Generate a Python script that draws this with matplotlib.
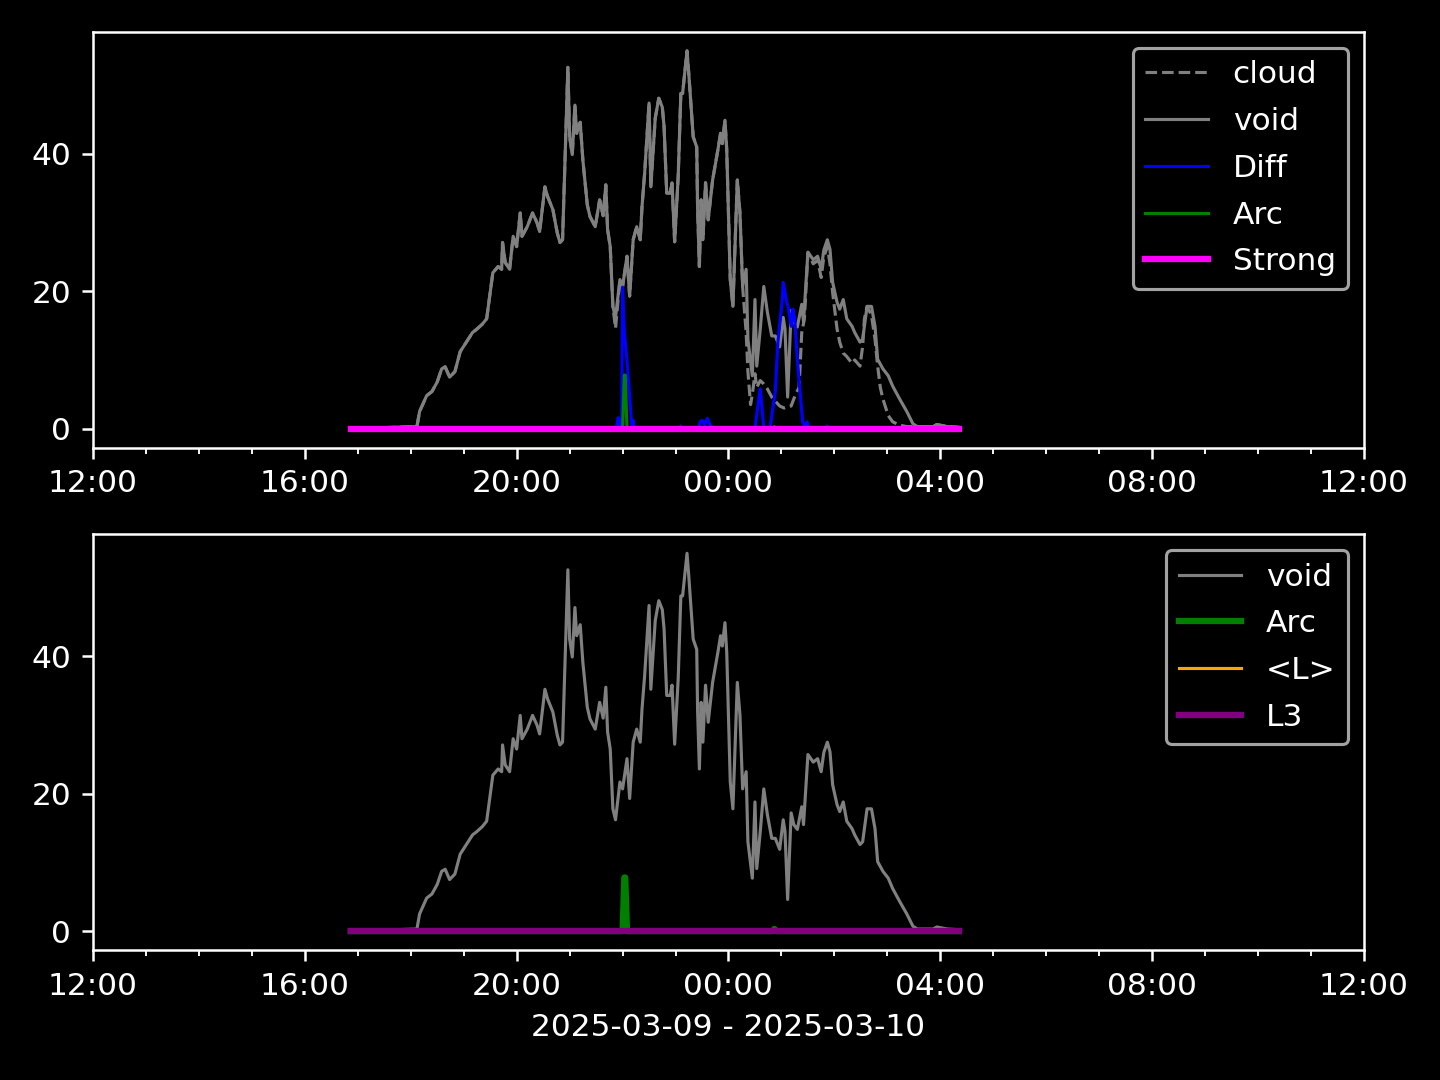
import matplotlib
matplotlib.use("Agg")
import matplotlib.pyplot as plt
import matplotlib.dates as mdates
import pandas as pd

plt.style.use("dark_background")

# void (same in both panels)
void_t = ["16:52", "18:07", "18:10", "18:18", "18:24", "18:30", "18:35", "18:39", "18:44", "18:50",
          "18:56", "19:04", "19:10", "19:15", "19:21", "19:26", "19:30", "19:33", "19:39", "19:43",
          "19:44", "19:47", "19:52", "19:56", "20:00", "20:04", "20:06", "20:12", "20:18", "20:23",
          "20:26", "20:32", "20:35", "20:41", "20:46", "20:49", "20:52", "20:58", "21:00", "21:03",
          "21:06", "21:08", "21:12", "21:15", "21:20", "21:23", "21:29", "21:34", "21:38", "21:41",
          "21:43", "21:46", "21:49", "21:52", "21:57", "22:00", "22:05", "22:08", "22:12", "22:16",
          "22:20", "22:22", "22:25", "22:30", "22:32", "22:37", "22:41", "22:45", "22:47", "22:50",
          "22:54", "22:56", "22:59", "23:03", "23:06", "23:08", "23:13", "23:15", "23:20", "23:24",
          "23:25", "23:27", "23:29", "23:31", "23:34", "23:37", "23:42", "23:48", "23:51", "23:53",
          "23:56", "23:58", "00:02", "00:05", "00:10", "00:13", "00:16", "00:20", "00:22", "00:27",
          "00:30", "00:32", "00:36", "00:40", "00:44", "00:49", "00:53", "00:58", "01:02", "01:04",
          "01:07", "01:11", "01:14", "01:18", "01:23", "01:25", "01:30", "01:36", "01:41", "01:45",
          "01:48", "01:52", "01:55", "01:58", "02:03", "02:06", "02:10", "02:14", "02:20", "02:23",
          "02:29", "02:32", "02:37", "02:42", "02:46", "02:49", "02:55", "03:01", "03:06", "03:14",
          "03:22", "03:29", "03:34", "03:52", "03:56", "04:08", "04:21"]
void_v = [0.0, 0.3, 2.5, 4.8, 5.4, 6.8, 8.7, 9.0, 7.5, 8.3,
          11.2, 12.8, 14.0, 14.5, 15.2, 16.0, 19.8, 22.7, 23.6, 23.2,
          27.1, 24.2, 23.2, 28.0, 26.5, 31.4, 28.0, 29.4, 31.4, 30.0,
          28.7, 35.2, 33.8, 31.9, 28.5, 27.1, 27.5, 52.6, 42.5, 39.9,
          47.1, 43.0, 44.6, 39.1, 32.6, 30.9, 29.4, 33.3, 31.0, 35.5,
          29.0, 26.5, 17.8, 16.2, 21.7, 20.7, 25.1, 19.3, 27.5, 29.4,
          27.5, 32.3, 37.2, 47.4, 35.2, 45.2, 48.1, 46.8, 44.0, 34.3,
          34.3, 35.8, 27.2, 36.7, 48.8, 48.8, 55.0, 51.7, 42.5, 41.0,
          32.0, 23.6, 33.3, 27.5, 35.8, 30.4, 36.2, 40.6, 43.0, 41.5,
          44.9, 40.6, 21.7, 17.8, 36.2, 31.4, 20.7, 23.2, 13.0, 7.7,
          18.8, 9.1, 14.5, 20.7, 17.0, 13.5, 13.5, 11.9, 16.2, 14.5,
          4.6, 17.2, 15.5, 14.8, 18.1, 15.5, 25.7, 24.6, 25.1, 23.2,
          26.0, 27.5, 26.1, 21.3, 18.4, 17.4, 18.8, 16.0, 14.9, 14.0,
          12.6, 13.0, 17.8, 17.8, 14.9, 10.1, 8.7, 7.7, 6.2, 4.3,
          2.5, 0.7, 0.3, 0.3, 0.6, 0.3, 0.2]

cloud_t = ["16:52", "18:07", "18:10", "18:18", "18:24", "18:30", "18:35", "18:39", "18:44", "18:50",
           "18:56", "19:04", "19:10", "19:15", "19:21", "19:26", "19:30", "19:33", "19:39", "19:43",
           "19:44", "19:47", "19:52", "19:56", "20:00", "20:04", "20:06", "20:12", "20:18", "20:23",
           "20:26", "20:32", "20:35", "20:41", "20:46", "20:49", "20:52", "20:58", "21:00", "21:03",
           "21:06", "21:08", "21:12", "21:15", "21:20", "21:23", "21:29", "21:34", "21:38", "21:41",
           "21:43", "21:46", "21:49", "21:52", "21:57", "22:00", "22:05", "22:08", "22:12", "22:16",
           "22:20", "22:22", "22:25", "22:30", "22:32", "22:37", "22:41", "22:45", "22:47", "22:50",
           "22:54", "22:56", "22:59", "23:03", "23:06", "23:08", "23:13", "23:15", "23:20", "23:24",
           "23:25", "23:27", "23:29", "23:31", "23:34", "23:37", "23:42", "23:48", "23:51", "23:53",
           "23:56", "23:58", "00:02", "00:05", "00:10", "00:13", "00:16", "00:20", "00:22", "00:25",
           "00:27", "00:30", "00:32", "00:36", "00:40", "00:44", "00:49", "00:53", "00:58", "01:03",
           "01:07", "01:11", "01:16", "01:20", "01:23", "01:26", "01:30", "01:36", "01:41", "01:45",
           "01:48", "01:52", "01:55", "01:58", "02:03", "02:06", "02:10", "02:14", "02:20", "02:23",
           "02:29", "02:32", "02:34", "02:37", "02:42", "02:46", "02:49", "02:52", "02:55", "03:01",
           "03:06", "03:14", "03:22", "03:29", "03:34", "03:52", "03:56", "04:08", "04:21"]
cloud_v = [0.0, 0.3, 2.5, 4.8, 5.4, 6.8, 8.7, 9.0, 7.5, 8.3,
           11.2, 12.8, 14.0, 14.5, 15.2, 16.0, 19.8, 22.7, 23.6, 23.2,
           27.1, 24.2, 23.2, 28.0, 26.5, 31.4, 28.0, 29.4, 31.4, 30.0,
           28.7, 35.2, 33.8, 31.9, 28.5, 27.1, 27.5, 52.6, 42.5, 39.9,
           47.1, 43.0, 44.6, 39.1, 32.6, 30.9, 29.4, 33.3, 31.0, 35.5,
           29.0, 26.5, 17.8, 14.6, 21.7, 20.7, 25.1, 19.3, 27.5, 29.4,
           27.5, 32.3, 37.2, 47.4, 35.2, 45.2, 48.1, 46.8, 44.0, 34.3,
           34.3, 35.8, 27.2, 36.7, 48.8, 48.8, 55.0, 51.7, 42.5, 41.0,
           32.0, 23.6, 33.3, 27.5, 35.8, 30.4, 36.2, 40.6, 43.0, 41.5,
           44.9, 40.6, 21.7, 17.8, 36.2, 31.4, 20.7, 14.0, 8.3, 3.5,
           5.0, 8.0, 6.0, 7.0, 6.5, 5.8, 4.6, 4.0, 3.3, 3.0,
           3.2, 3.3, 5.0, 6.0, 14.0, 16.0, 25.6, 24.0, 24.5, 22.0,
           25.0, 26.5, 24.0, 19.8, 14.5, 12.6, 11.0, 10.5, 9.5, 10.0,
           9.1, 12.0, 16.0, 17.8, 16.5, 13.0, 9.1, 6.0, 4.3, 1.9,
           1.0, 0.5, 0.3, 0.3, 0.3, 0.3, 0.6, 0.3, 0.2]

diff_t = ["16:52", "21:53", "21:55", "21:57", "21:59", "22:00", "22:02", "22:05", "22:08", "22:10",
          "22:11", "22:12", "22:13", "23:05", "23:06", "23:07", "23:26", "23:28", "23:30", "23:33",
          "23:36", "23:39", "23:42", "00:30", "00:33", "00:36", "00:38", "00:40", "00:47", "00:53",
          "00:56", "01:01", "01:02", "01:06", "01:08", "01:11", "01:13", "01:15", "01:18", "01:21",
          "01:24", "01:27", "01:29", "01:31", "01:51", "01:52", "01:54", "04:21"]
diff_v = [0.0, 0.0, 1.6, 0.0, 0.0, 20.6, 14.0, 10.0, 4.8, 1.0,
          0.0, 1.2, 0.0, 0.0, 0.4, 0.0, 0.0, 1.0, 1.2, 0.6,
          1.5, 0.6, 0.0, 0.0, 3.0, 5.8, 3.0, 0.0, 0.0, 5.4,
          12.6, 18.8, 21.3, 18.4, 17.5, 14.9, 17.4, 16.0, 10.1, 5.4,
          1.0, 0.3, 1.0, 0.0, 0.0, 0.4, 0.0, 0.0]

arc_t = ["16:52", "22:00", "22:02", "22:03", "22:05", "00:50", "00:52", "00:54", "04:21"]
arc_v = [0.0, 0.0, 7.8, 7.8, 0.0, 0.0, 0.3, 0.0, 0.0]

flat_t = ["16:52", "04:21"]
strong_v = [0.0, 0.0]
meanl_v = [0.0, 0.0]
l3_v = [0.0, 0.0]


def to_dt(times):
    out = []
    for t in times:
        h = int(t[:2])
        day = "2025-03-09" if h >= 12 else "2025-03-10"
        out.append(pd.Timestamp(f"{day} {t}"))
    return out


fig, (ax1, ax2) = plt.subplots(2, 1, figsize=(6.4, 4.8), dpi=225)
fig.subplots_adjust(left=0.0646, right=0.9472, top=0.9704, bottom=0.1204, hspace=0.209)

ax1.plot(to_dt(cloud_t), cloud_v, color="gray", linestyle="--", linewidth=1, label="cloud")
ax1.plot(to_dt(void_t), void_v, color="gray", linewidth=1, label="void")
ax1.plot(to_dt(diff_t), diff_v, color="blue", linewidth=1, label="Diff")
ax1.plot(to_dt(arc_t), arc_v, color="green", linewidth=1, label="Arc")
ax1.plot(to_dt(flat_t), strong_v, color="magenta", linewidth=2, label="Strong")
ax1.legend(loc="upper right", labelspacing=0.57)

ax2.plot(to_dt(void_t), void_v, color="gray", linewidth=1, label="void")
ax2.plot(to_dt(arc_t), arc_v, color="green", linewidth=2, label="Arc")
ax2.plot(to_dt(flat_t), meanl_v, color="orange", linewidth=1, label="<L>")
ax2.plot(to_dt(flat_t), l3_v, color="purple", linewidth=2, label="L3")
ax2.legend(loc="upper right", labelspacing=0.57)
ax2.set_xlabel("2025-03-09 - 2025-03-10")

for ax in (ax1, ax2):
    ax.set_xlim(pd.Timestamp("2025-03-09 12:00"), pd.Timestamp("2025-03-10 12:00"))
    ax.xaxis.set_major_locator(mdates.HourLocator(byhour=range(0, 24, 4)))
    ax.xaxis.set_minor_locator(mdates.HourLocator())
    ax.xaxis.set_major_formatter(mdates.DateFormatter("%H:%M"))

plt.savefig("out.png", dpi=225)
